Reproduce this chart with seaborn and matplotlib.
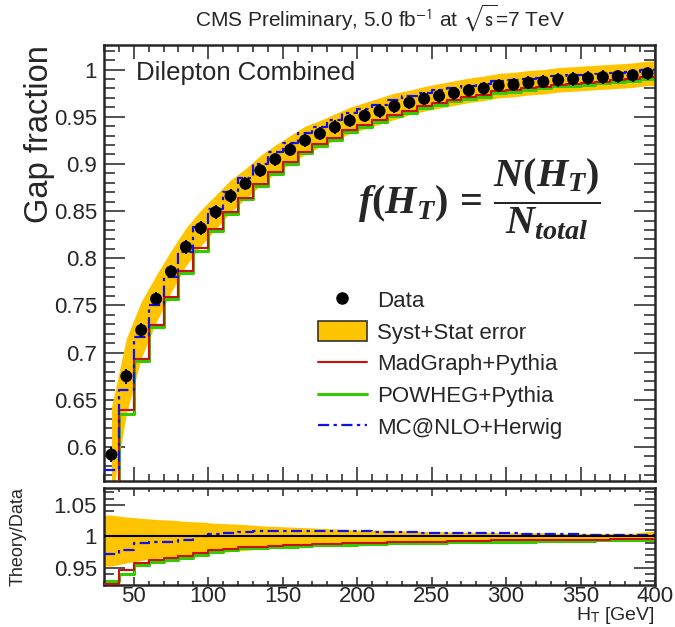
import numpy as np
import matplotlib
matplotlib.use("Agg")
import matplotlib.pyplot as plt
import seaborn as sns
from matplotlib.ticker import FixedLocator, MultipleLocator, FuncFormatter
from matplotlib.patches import Patch
from matplotlib.lines import Line2D

# ---------------- data ----------------
bin_edges = [30, 40, 50, 60, 70, 80, 90, 100, 110, 120, 130, 140, 150, 160, 170,
             180, 190, 200, 210, 220, 230, 240, 250, 260, 270, 280, 290, 300,
             310, 320, 330, 340, 350, 360, 370, 380, 390, 400]
ht_centers = [35, 45, 55, 65, 75, 85, 95, 105, 115, 125, 135, 145, 155, 165, 175,
              185, 195, 205, 215, 225, 235, 245, 255, 265, 275, 285, 295, 305,
              315, 325, 335, 345, 355, 365, 375, 385, 395]
gap_fraction = [0.592, 0.675, 0.724, 0.757, 0.786, 0.812, 0.832, 0.849, 0.866,
                0.879, 0.893, 0.905, 0.915, 0.925, 0.932, 0.939, 0.946, 0.951,
                0.956, 0.961, 0.965, 0.969, 0.972, 0.975, 0.978, 0.980, 0.983,
                0.984, 0.986, 0.987, 0.989, 0.990, 0.991, 0.992, 0.993, 0.994, 0.996]
stat_err = [0.008, 0.008, 0.007, 0.007, 0.007, 0.007, 0.007, 0.007, 0.007, 0.007,
            0.007, 0.007, 0.007, 0.007, 0.007, 0.007, 0.007, 0.007, 0.007, 0.007,
            0.007, 0.007, 0.007, 0.007, 0.007, 0.007, 0.007, 0.007, 0.007, 0.007,
            0.007, 0.007, 0.007, 0.007, 0.007, 0.007, 0.007]
# half-height of the yellow syst+stat band in the main panel
band_half_main = [0.050, 0.040, 0.030, 0.025, 0.022, 0.020, 0.019, 0.018, 0.017,
                  0.016, 0.016, 0.015, 0.015, 0.015, 0.014, 0.014, 0.014, 0.014,
                  0.014, 0.014, 0.013, 0.013, 0.013, 0.013, 0.013, 0.013, 0.013,
                  0.013, 0.013, 0.013, 0.013, 0.013, 0.013, 0.013, 0.013, 0.013, 0.013]
# band in the Theory/Data panel (upper / lower offsets from 1)
ratio_band_up = [0.034, 0.031, 0.029, 0.027, 0.026, 0.024, 0.023, 0.021, 0.020,
                 0.019, 0.017, 0.016, 0.015, 0.014, 0.013, 0.012, 0.011, 0.010,
                 0.010, 0.009, 0.009, 0.008, 0.008, 0.007, 0.007, 0.007, 0.006,
                 0.006, 0.006, 0.006, 0.005, 0.005, 0.005, 0.005, 0.005, 0.005, 0.008]
ratio_band_dn = [0.047, 0.042, 0.038, 0.035, 0.032, 0.030, 0.028, 0.026, 0.024,
                 0.022, 0.020, 0.018, 0.016, 0.015, 0.013, 0.012, 0.011, 0.010,
                 0.009, 0.009, 0.008, 0.008, 0.007, 0.007, 0.007, 0.006, 0.006,
                 0.006, 0.006, 0.005, 0.005, 0.005, 0.005, 0.005, 0.005, 0.005, 0.007]
# Theory / Data ratios
ratio_madgraph = [0.924, 0.947, 0.958, 0.963, 0.966, 0.969, 0.974, 0.979, 0.980,
                  0.983, 0.984, 0.985, 0.986, 0.987, 0.988, 0.988, 0.989, 0.990,
                  0.990, 0.991, 0.991, 0.992, 0.992, 0.993, 0.993, 0.993, 0.994,
                  0.994, 0.994, 0.994, 0.995, 0.995, 0.995, 0.995, 0.996, 0.996, 0.996]
ratio_powheg = [0.930, 0.940, 0.954, 0.960, 0.963, 0.966, 0.971, 0.976, 0.978,
                0.981, 0.982, 0.983, 0.984, 0.985, 0.986, 0.986, 0.987, 0.988,
                0.988, 0.989, 0.989, 0.990, 0.990, 0.991, 0.991, 0.991, 0.992,
                0.992, 0.992, 0.993, 0.993, 0.993, 0.993, 0.994, 0.994, 0.994, 0.994]
ratio_mcatnlo = [0.973, 0.978, 0.990, 0.991, 0.992, 0.994, 1.001, 1.004, 1.005,
                 1.007, 1.008, 1.008, 1.008, 1.008, 1.008, 1.008, 1.008, 1.008,
                 1.007, 1.007, 1.007, 1.006, 1.006, 1.006, 1.005, 1.005, 1.005,
                 1.005, 1.004, 1.004, 1.004, 1.004, 1.003, 1.003, 1.003, 1.003, 1.003]

legend_labels = ["Data", "Syst+Stat error", "MadGraph+Pythia",
                 "POWHEG+Pythia", "MC@NLO+Herwig"]
main_yticks = [0.6, 0.65, 0.7, 0.75, 0.8, 0.85, 0.9, 0.95, 1.0]
ratio_yticks = [0.95, 1.0, 1.05]
xticks = [50, 100, 150, 200, 250, 300, 350, 400]

# ---------------- style ----------------
sns.set_style("ticks")
plt.rcParams["font.family"] = ["Liberation Sans", "DejaVu Sans"]
plt.rcParams["mathtext.fontset"] = "custom"
plt.rcParams["mathtext.it"] = "Liberation Serif:italic:bold"
plt.rcParams["mathtext.rm"] = "Liberation Serif:bold"
plt.rcParams["mathtext.bf"] = "Liberation Serif:italic:bold"

YEL = "#FFC400"
RED = "#CC1010"
GRN = "#33CC00"
BLU = "#1010EE"
DASHDOT = (0, (5, 2, 1.5, 2))

W, H = 675, 627
fig = plt.figure(figsize=(W / 100, H / 100), dpi=100)
L, R = 104, 655
ax = fig.add_axes([L / W, 1 - 481 / H, (R - L) / W, (481 - 45) / H])
axr = fig.add_axes([L / W, 1 - 585 / H, (R - L) / W, (585 - 488) / H])

data = np.array(gap_fraction)
edges = np.array(bin_edges)


def step_y(vals):
    v = np.asarray(vals)
    return np.append(v, v[-1])


# ---------------- main panel ----------------
bx = np.append(ht_centers, 400)
bh = np.array(band_half_main)
ax.fill_between(bx, step_y(data - bh), step_y(data + bh), color=YEL, lw=0, zorder=1)

mad_main = data * np.array(ratio_madgraph)
pow_main = data * np.array(ratio_powheg)
mc_main = data * np.array(ratio_mcatnlo)

sns.lineplot(x=edges, y=step_y(pow_main), ax=ax, color=GRN, lw=2.2,
             drawstyle="steps-post", estimator=None, sort=False, zorder=2)
sns.lineplot(x=edges, y=step_y(mad_main), ax=ax, color=RED, lw=1.5,
             drawstyle="steps-post", estimator=None, sort=False, zorder=3)
sns.lineplot(x=edges, y=step_y(mc_main), ax=ax, color=BLU, lw=1.6,
             drawstyle="steps-post", estimator=None, sort=False, zorder=4,
             linestyle=DASHDOT)

ax.errorbar(ht_centers, data, yerr=stat_err, fmt="none", ecolor="black",
            elinewidth=1.4, capsize=0, zorder=5)
sns.scatterplot(x=ht_centers, y=data, ax=ax, color="black", s=75,
                edgecolor="none", zorder=6)

ax.set_xlim(30, 400)
ax.set_ylim(0.564, 1.026)
ax.xaxis.set_major_locator(FixedLocator(xticks))
ax.xaxis.set_minor_locator(MultipleLocator(10))
ax.yaxis.set_major_locator(FixedLocator(main_yticks))
ax.yaxis.set_minor_locator(MultipleLocator(0.01))
ax.yaxis.set_major_formatter(FuncFormatter(lambda v, p: f"{v:g}"))
ax.tick_params(axis="x", labelbottom=False)
ax.tick_params(which="both", direction="in", top=True, right=True,
               width=1.1, color="#222222")
ax.tick_params(axis="y", which="major", length=15, labelsize=16, pad=5)
ax.tick_params(axis="y", which="minor", length=8)
ax.tick_params(axis="x", which="major", length=10)
ax.tick_params(axis="x", which="minor", length=5)
ax.set_xlabel("")
ax.set_ylabel("")
for s in ax.spines.values():
    s.set_linewidth(1.8)

ax.text(0.058, 0.92, "Dilepton Combined", transform=ax.transAxes,
        fontsize=18.5, ha="left", va="baseline")
ax.text(0.682, 0.645, r"$f(H_T)\,=\,\dfrac{N(H_T)}{N_{total}}$",
        transform=ax.transAxes, fontsize=29, ha="center", va="center")

handles = [
    Line2D([], [], marker="o", color="black", ls="none", ms=8),
    Patch(facecolor=YEL, edgecolor="#333333", lw=1.2),
    Line2D([], [], color=RED, lw=1.5),
    Line2D([], [], color=GRN, lw=2.2),
    Line2D([], [], color=BLU, lw=1.6, ls=DASHDOT),
]
ax.legend(handles, legend_labels, loc="upper left", bbox_to_anchor=(0.388, 0.44),
          frameon=False, fontsize=16, handlelength=2.2, handleheight=1.0,
          handletextpad=0.45, labelspacing=0.42, borderpad=0, borderaxespad=0)

# ---------------- ratio panel ----------------
rx = np.concatenate([[30], ht_centers, [400]])
up = np.array(ratio_band_up)
dn = np.array(ratio_band_dn)
rup = np.concatenate([[1 + up[0]], 1 + up, [1 + up[-1]]])
rdn = np.concatenate([[1 - dn[0]], 1 - dn, [1 - dn[-1]]])
axr.fill_between(rx, rdn, rup, color=YEL, lw=0, zorder=1)

sns.lineplot(x=edges, y=step_y(ratio_powheg), ax=axr, color=GRN, lw=2.2,
             drawstyle="steps-post", estimator=None, sort=False, zorder=2)
sns.lineplot(x=edges, y=step_y(ratio_madgraph), ax=axr, color=RED, lw=1.5,
             drawstyle="steps-post", estimator=None, sort=False, zorder=3)
sns.lineplot(x=edges, y=step_y(ratio_mcatnlo), ax=axr, color=BLU, lw=1.6,
             drawstyle="steps-post", estimator=None, sort=False, zorder=4,
             linestyle=DASHDOT)
axr.axhline(1.0, color="black", lw=1.5, zorder=5)

axr.set_xlim(30, 400)
axr.set_ylim(0.923, 1.077)
axr.xaxis.set_major_locator(FixedLocator(xticks))
axr.xaxis.set_minor_locator(MultipleLocator(10))
axr.yaxis.set_major_locator(FixedLocator(ratio_yticks))
axr.yaxis.set_minor_locator(MultipleLocator(0.01))
axr.yaxis.set_major_formatter(FuncFormatter(lambda v, p: f"{v:g}"))
axr.xaxis.set_major_formatter(FuncFormatter(lambda v, p: f"{v:g}"))
axr.tick_params(which="both", direction="in", top=True, right=True,
                width=1.1, color="#222222")
axr.tick_params(axis="y", which="major", length=15, labelsize=16, pad=5)
axr.tick_params(axis="y", which="minor", length=7)
axr.tick_params(axis="x", which="major", length=6, labelsize=16, pad=1)
axr.tick_params(axis="x", which="minor", length=3)
axr.set_xlabel("")
axr.set_ylabel("")
for s in axr.spines.values():
    s.set_linewidth(1.8)

# ---------------- labels ----------------
fig.text(380 / W, 1 - 18 / H,
         r"CMS Preliminary, 5.0 fb$^{\mathrm{-1}}$ at $\sqrt{\mathrm{s}}$=7 TeV",
         ha="center", va="center", fontsize=15, math_fontfamily="stixsans")
fig.text(40 / W, 1 - 45 / H, "Gap fraction", rotation=90, ha="center",
         va="top", fontsize=23.5)
fig.text(18 / W, 1 - 487 / H, "Theory/Data", rotation=90, ha="center",
         va="top", fontsize=13)
fig.text(655 / W, 1 - 626.5 / H, r"H$_{\mathrm{T}}$ [GeV]", ha="right",
         va="bottom", fontsize=14, math_fontfamily="stixsans")

fig.savefig("out.png", dpi=100)
